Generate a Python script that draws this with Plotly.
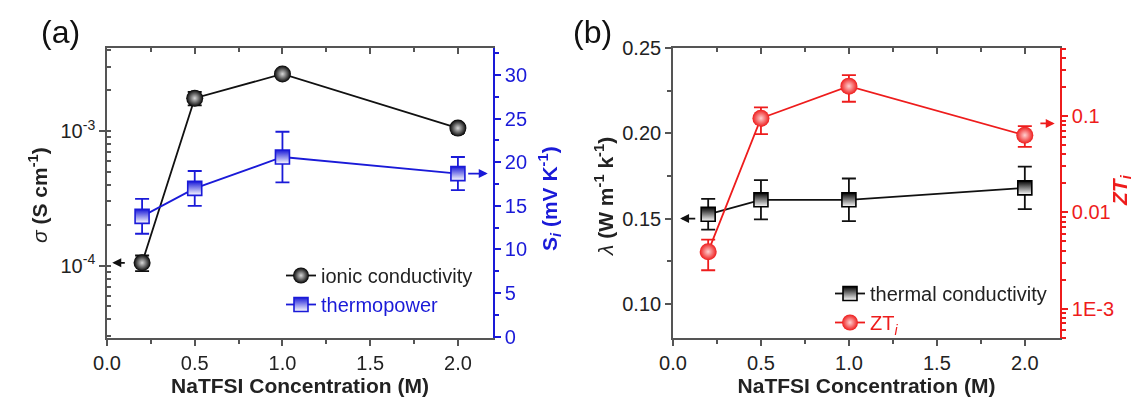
import math
import plotly.graph_objects as go

# ---------------- data ----------------
conc = [0.2, 0.5, 1.0, 2.0]

sigma = [1.05e-4, 1.75e-3, 2.65e-3, 1.05e-3]          # S cm-1
sigma_err = [0.14e-4, 0.2e-3, 0.15e-3, 0.08e-3]
seebeck = [13.8, 17.0, 20.6, 18.7]                    # mV K-1
seebeck_err = [2.0, 2.0, 2.9, 1.9]

lam = [0.1525, 0.161, 0.161, 0.168]                  # W m-1 K-1
lam_err = [0.009, 0.0115, 0.0125, 0.0125]
zt = [0.0039, 0.095, 0.205, 0.0633]
zt_err_plus = [0.0013, 0.028, 0.062, 0.0154]
zt_err_minus = [0.0014, 0.030, 0.064, 0.0155]

x_ticks = [0.0, 0.5, 1.0, 1.5, 2.0]
sigma_tickvals = [1e-4, 1e-3]
sigma_ticktext = ["10<sup>-4</sup>", "10<sup>-3</sup>"]
zt_tickvals = [0.001, 0.01, 0.1]
zt_ticktext = ["1E-3", "0.01", "0.1"]

# ---------------- styling ----------------
FONT = "Arial, Liberation Sans, sans-serif"
BLACK = "#111111"
BLUE = "#1a1ad8"
RED = "#ee1c1c"
AX = "#555555"
TICKF = dict(family=FONT, size=20, color="#222222")

fig = go.Figure()

# Panel (a)
fig.add_trace(go.Scatter(
    x=conc, y=sigma, mode="lines+markers", name="ionic conductivity",
    xaxis="x", yaxis="y", legend="legend",
    line=dict(color=BLACK, width=1.8),
    marker=dict(symbol="circle", size=17, color="#000000",
                gradient=dict(type="radial", color="#d8d8d8"),
                line=dict(width=0)),
    error_y=dict(type="data", array=sigma_err, color=BLACK, thickness=1.8, width=7),
))
fig.add_trace(go.Scatter(
    x=conc, y=seebeck, mode="lines+markers",
    name='<span style="color:%s">thermopower</span>' % BLUE,
    xaxis="x", yaxis="y2", legend="legend",
    line=dict(color=BLUE, width=1.8),
    marker=dict(symbol="square", size=14, color=BLUE,
                gradient=dict(type="vertical", color="white"),
                line=dict(width=1.6, color=BLUE)),
    error_y=dict(type="data", array=seebeck_err, color=BLUE, thickness=1.8, width=7),
))

# Panel (b)
fig.add_trace(go.Scatter(
    x=conc, y=lam, mode="lines+markers", name="thermal conductivity",
    xaxis="x2", yaxis="y3", legend="legend2",
    line=dict(color=BLACK, width=1.8),
    marker=dict(symbol="square", size=14, color="#000000",
                gradient=dict(type="vertical", color="white"),
                line=dict(width=1.6, color="#000000")),
    error_y=dict(type="data", array=lam_err, color=BLACK, thickness=1.8, width=7),
))
fig.add_trace(go.Scatter(
    x=conc, y=zt, mode="lines+markers",
    name='<span style="color:%s">ZT<sub><i>i</i></sub></span>' % RED,
    xaxis="x2", yaxis="y4", legend="legend2",
    line=dict(color=RED, width=1.8),
    marker=dict(symbol="circle", size=17, color=RED,
                gradient=dict(type="radial", color="#ffd0d0"),
                line=dict(width=0)),
    error_y=dict(type="data", symmetric=False, array=zt_err_plus,
                 arrayminus=zt_err_minus, color=RED, thickness=1.8, width=7),
))

# invisible traces to activate top (mirror) axes
fig.add_trace(go.Scatter(x=conc, y=sigma, xaxis="x3", yaxis="y", mode="markers",
                         opacity=0, showlegend=False, hoverinfo="skip"))
fig.add_trace(go.Scatter(x=conc, y=lam, xaxis="x4", yaxis="y3", mode="markers",
                         opacity=0, showlegend=False, hoverinfo="skip"))

DA = [107 / 1135, 493 / 1135]
DB = [673 / 1135, 1060 / 1135]
DY = [(406 - 338) / 406, (406 - 48) / 406]

def xax(domain, anchor):
    return dict(domain=domain, anchor=anchor, range=[0, 2.2], tickvals=x_ticks,
                ticktext=["%.1f" % v for v in x_ticks], automargin=False,
                ticks="outside", ticklen=6, tickwidth=1.5, tickcolor=AX,
                minor=dict(tickvals=[0.25, 0.75, 1.25, 1.75], ticks="outside",
                           ticklen=4, tickwidth=1.5, tickcolor=AX),
                showline=True, linecolor=AX, linewidth=1.6, showgrid=False,
                zeroline=False, tickfont=TICKF,
                title=dict(text="<b>NaTFSI Concentration (M)</b>",
                           font=dict(family=FONT, size=21, color="#222222"),
                           standoff=6))

def xtop(domain, anchor, over):
    return dict(domain=domain, anchor=anchor, overlaying=over, side="top",
                range=[0, 2.2], tickvals=x_ticks, showticklabels=False,
                automargin=False,
                ticks="inside", ticklen=6, tickwidth=1.5, tickcolor=AX,
                minor=dict(tickvals=[0.25, 0.75, 1.25, 1.75], ticks="inside",
                           ticklen=4, tickwidth=1.5, tickcolor=AX),
                showline=True, linecolor=AX, linewidth=1.6, showgrid=False,
                zeroline=False)

fig.update_layout(
    width=1135, height=406,
    margin=dict(l=0, r=0, t=0, b=0, autoexpand=False),
    paper_bgcolor="white", plot_bgcolor="white",
    font=dict(family=FONT, size=20, color="#222222"),
    xaxis=xax(DA, "y"),
    xaxis2=xax(DB, "y3"),
    xaxis3=xtop(DA, "y", "x"),
    xaxis4=xtop(DB, "y3", "x2"),
    yaxis=dict(domain=DY, anchor="x", type="log", range=[-4.537, -2.384],
               tickvals=sigma_tickvals, ticktext=sigma_ticktext,
               automargin=False,
               ticks="outside", ticklen=6, tickwidth=1.5, tickcolor=AX,
               minor=dict(dtick="D1", ticks="inside", ticklen=4, tickwidth=1.5,
                          tickcolor=AX),
               showline=True, linecolor=AX, linewidth=1.6, showgrid=False,
               zeroline=False, tickfont=TICKF),
    yaxis2=dict(anchor="x", overlaying="y", side="right", range=[-0.15, 33.1],
                dtick=5, tick0=0, ticks="outside", ticklen=6, tickwidth=1.5,
                tickcolor=BLUE, automargin=False,
                minor=dict(dtick=2.5, ticks="outside", ticklen=4, tickwidth=1.5,
                           tickcolor=BLUE),
                showline=True, linecolor=BLUE, linewidth=1.6, showgrid=False,
                zeroline=False, tickfont=dict(family=FONT, size=20, color=BLUE)),
    yaxis3=dict(domain=DY, anchor="x2", range=[0.08, 0.25],
                tickvals=[0.10, 0.15, 0.20, 0.25], automargin=False,
                ticktext=["0.10", "0.15", "0.20", "0.25"],
                ticks="outside", ticklen=6, tickwidth=1.5, tickcolor=AX,
                minor=dict(tickvals=[0.125, 0.175, 0.225], ticks="outside",
                           ticklen=4, tickwidth=1.5, tickcolor=AX),
                showline=True, linecolor=AX, linewidth=1.6, showgrid=False,
                zeroline=False, tickfont=TICKF),
    yaxis4=dict(anchor="x2", overlaying="y3", side="right", type="log",
                range=[-3.306, -0.292], tickvals=zt_tickvals, ticktext=zt_ticktext,
                automargin=False,
                ticks="outside", ticklen=6, tickwidth=1.5, tickcolor=RED,
                minor=dict(dtick="D1", ticks="outside", ticklen=4, tickwidth=1.5,
                           tickcolor=RED),
                showline=True, linecolor=RED, linewidth=1.6, showgrid=False,
                zeroline=False, tickfont=dict(family=FONT, size=20, color=RED)),
    legend=dict(x=281 / 1135, y=1 - 290 / 406, xanchor="left", yanchor="middle",
                bgcolor="rgba(0,0,0,0)", font=dict(family=FONT, size=20, color="#222222"),
                tracegroupgap=0, itemwidth=30),
    legend2=dict(x=830 / 1135, y=1 - 308 / 406, xanchor="left", yanchor="middle",
                 bgcolor="rgba(0,0,0,0)", font=dict(family=FONT, size=20, color="#222222"),
                 tracegroupgap=0, itemwidth=30),
    showlegend=True,
)

ann = []
def label(text, px, py, size, color, angle=0):
    ann.append(dict(text=text, x=px / 1135, y=1 - py / 406, xref="paper", yref="paper",
                    xanchor="center", yanchor="middle", textangle=angle,
                    showarrow=False, font=dict(family=FONT, size=size, color=color)))

# panel labels
label("(a)", 60, 32, 32, "#111111")
label("(b)", 592, 32, 32, "#111111")
# y-axis titles
label("<i>σ</i> <b>(S cm<sup>-1</sup>)</b>", 38, 195, 21, "#222222", -90)
label("<b>S<sub><i>i</i></sub> (mV K<sup>-1</sup>)</b>", 549, 199, 21, BLUE, -90)
label("<i>λ</i> <b>(W m<sup>-1</sup> k<sup>-1</sup>)</b>", 604, 197, 21, "#222222", -90)
label("<b><i>ZT<sub>i</sub></i></b>", 1121, 190, 21, RED, -90)

# arrows pointing to the relevant axis
ann.append(dict(x=0.03, y=math.log10(sigma[0]), ax=0.11, ay=math.log10(sigma[0]),
                xref="x", yref="y", axref="x", ayref="y", text="", showarrow=True,
                arrowhead=2, arrowsize=1, arrowwidth=1.8, arrowcolor=BLACK))
ann.append(dict(x=2.17, y=seebeck[3], ax=2.05, ay=seebeck[3],
                xref="x", yref="y2", axref="x", ayref="y2", text="", showarrow=True,
                arrowhead=2, arrowsize=1, arrowwidth=1.8, arrowcolor=BLUE))
ann.append(dict(x=0.04, y=0.15, ax=0.135, ay=0.15,
                xref="x2", yref="y3", axref="x2", ayref="y3", text="", showarrow=True,
                arrowhead=2, arrowsize=1, arrowwidth=1.8, arrowcolor=BLACK))
ann.append(dict(x=2.17, y=math.log10(0.084), ax=2.08, ay=math.log10(0.084),
                xref="x2", yref="y4", axref="x2", ayref="y4", text="", showarrow=True,
                arrowhead=2, arrowsize=1, arrowwidth=1.8, arrowcolor=RED))
fig.update_layout(annotations=ann)

fig.write_html("out.html")
